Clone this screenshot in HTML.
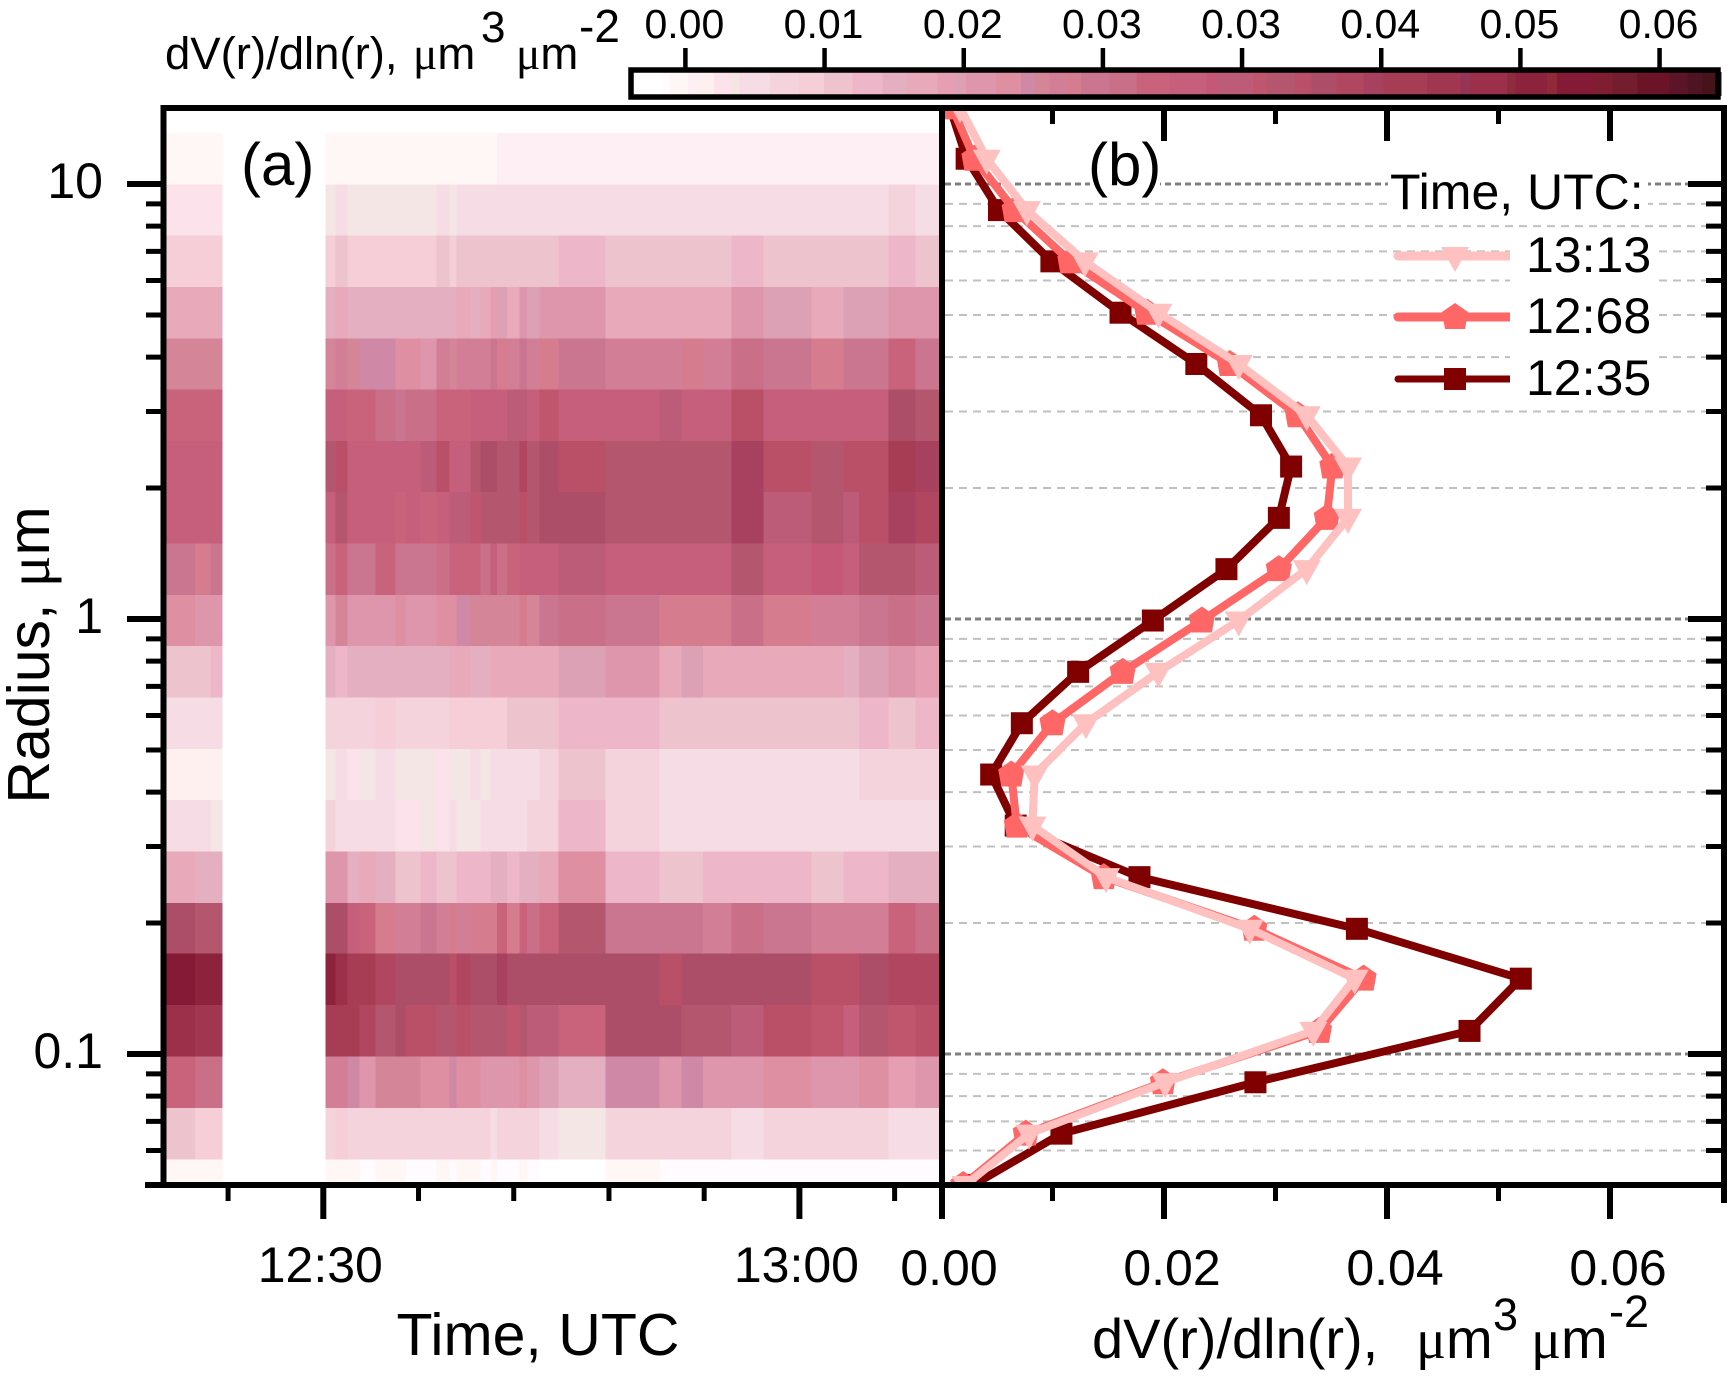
<!DOCTYPE html>
<html lang="en">
<head>
<meta charset="utf-8">
<title>Volume size distribution</title>
<style>
html,body{margin:0;padding:0;background:#fff;}
svg{display:block;}
text{font-family:"Liberation Sans",Arial,sans-serif;fill:#000;}
.mu{font-family:"Liberation Serif","DejaVu Serif",serif;}
</style>
</head>
<body>
<svg id="chart" xmlns="http://www.w3.org/2000/svg" width="1731" height="1377" viewBox="0 0 1731 1377">
  <defs><clipPath id="panel-b-clip"><rect x="945" y="111" width="776" height="1071"/></clipPath></defs>
  <rect x="0" y="0" width="1731" height="1377" fill="#fff"/>
  <g id="heatmap"></g>
  <g id="grid"></g>
  <g id="boxes">
    <rect x="1090" y="143" width="70" height="56" fill="#fff"/>
    <rect x="1388" y="165" width="260" height="50" fill="#fff"/>
    <rect x="1510" y="235" width="148" height="160" fill="#fff"/>
  </g>
  <g id="series" clip-path="url(#panel-b-clip)"></g>
  <g id="axes"></g>
  <g id="colorbar"></g>
  <g id="legend"></g>

  <text x="165" y="69" font-size="45.5">dV(r)/dln(r),<tspan class="mu" x="413">μ</tspan><tspan>m</tspan><tspan x="481" y="42" font-size="44">3</tspan><tspan class="mu" x="516" y="69">μ</tspan><tspan>m</tspan><tspan x="579" y="42" font-size="46">-2</tspan></text>
  <text x="241" y="185" font-size="60">(a)</text>
  <text x="1088" y="185" font-size="60">(b)</text>
  <text x="0" y="0" font-size="59" transform="translate(49,655) rotate(-90)" text-anchor="middle">Radius, <tspan class="mu">μ</tspan>m</text>
  <text x="538" y="1355" font-size="59" text-anchor="middle">Time, UTC</text>
  <text x="1092" y="1358" font-size="56">dV(r)/dln(r),<tspan class="mu" x="1416">μ</tspan><tspan>m</tspan><tspan x="1493" y="1330" font-size="45">3</tspan><tspan class="mu" x="1531" y="1358">μ</tspan><tspan>m</tspan><tspan x="1609" y="1327" font-size="45">-2</tspan></text>
  <text x="1390" y="209" font-size="50">Time, UTC:</text>
</svg>

<script>
// ---------- size bins (um), top to bottom ----------
const radii = [15, 11.43, 8.71, 6.64, 5.06, 3.857, 2.94, 2.241, 1.708, 1.302, 0.992, 0.756, 0.576, 0.439, 0.335, 0.255, 0.194, 0.149, 0.113, 0.0861, 0.0656, 0.05];

// ---------- panel (b) series, dV/dlnr ----------
const seriesNames = ['12:35', '12:68', '13:13'];
const series1235 = [0.0008, 0.0023, 0.0052, 0.0099, 0.0161, 0.0229, 0.0287, 0.0314, 0.0303, 0.0256, 0.0190, 0.0123, 0.00725, 0.0045, 0.0067, 0.0178, 0.0373, 0.0520, 0.0474, 0.0282, 0.0108, 0.0029];
const series1268 = [0.0010, 0.0030, 0.0066, 0.0116, 0.0185, 0.0259, 0.0320, 0.0351, 0.0346, 0.0303, 0.0234, 0.0163, 0.0100, 0.0063, 0.0068, 0.0146, 0.0281, 0.0379, 0.0339, 0.0199, 0.0076, 0.0020];
const series1313 = [0.0017, 0.0041, 0.0077, 0.0129, 0.0195, 0.0267, 0.0328, 0.0365, 0.0365, 0.0328, 0.0267, 0.0195, 0.0130, 0.0084, 0.0082, 0.0148, 0.0277, 0.0371, 0.0334, 0.0201, 0.0079, 0.0022];

// ---------- axis ticks ----------
const timeTicks = [24, 30, 36, 42, 48, 54, 60, 66];
const timeTickLabels = {30: '12:30', 60: '13:00'};
const volumeTicks = [0, 0.01, 0.02, 0.03, 0.04, 0.05, 0.06, 0.07];
const volumeTickLabels = ['0.00', '', '0.02', '', '0.04', '', '0.06', ''];
const radiusMajorTicks = [10, 1, 0.1];
const radiusMajorLabels = ['10', '1', '0.1'];
const radiusMinorTicks = [9, 8, 7, 6, 5, 4, 3, 2, 0.9, 0.8, 0.7, 0.6, 0.5, 0.4, 0.3, 0.2, 0.09, 0.08, 0.07, 0.06];

// ---------- colour scale (value in 1e-3 units: level start, colour) ----------
const colorbarTicks = [0, 8.333, 16.667, 25, 33.333, 41.667, 50, 58.333];
const colorbarLabels = ['0.00', '0.01', '0.02', '0.03', '0.03', '0.04', '0.05', '0.06'];
const levelStarts = [-3.1, -1.35, -0.92, 0.15, 1.0, 1.7, 2.7, 3.25, 5.06, 6.8, 8.3, 10, 11.8, 13.3, 15.1, 16.1, 16.8, 18.6, 20.1, 20.9, 21.8, 22.9, 23.7, 25.4, 27, 29, 31.2, 31.8, 34, 34.8, 36.5, 37.5, 39, 40.6, 41.8, 44.4, 46.4, 47, 49.2, 49.7, 51.6, 52.2, 54.4, 55.5, 57, 58.9, 60, 60.9];
const levelColors = ['#FFFFFF', '#FFFBFE', '#FFF7F6', '#FEEFF5', '#FFF0F0', '#FCE2EA', '#F5E6E6', '#F5DCE5', '#F5D3DC', '#F5CED7', '#EDC3CE', '#EEB6C9', '#E5AFC2', '#E8AABA', '#E69FB2', '#DCA1B5', '#DE96AD', '#DE8FA1', '#CF88A5', '#D48698', '#D27E96', '#D57D8E', '#CB7690', '#C96F88', '#C9637C', '#C65F7C', '#C65877', '#BD5C78', '#C0566E', '#B5566F', '#BA5068', '#AC4E68', '#B04660', '#A8405F', '#A73C55', '#A03650', '#953555', '#9C2F4A', '#8E2C3E', '#8D223D', '#8F2A36', '#841A35', '#7E1E30', '#741D2E', '#6B1428', '#5C1428', '#4F1424', '#451318'];

// ---------- heatmap: column edges in minutes after 12:00 ----------
const scanEdgesEarly = [19.9, 21.93, 22.88, 23.64];
const scanEdgesLate = [30.13, 30.76, 31.51, 32.27, 33.28, 34.54, 35.17, 36.11, 37.12, 37.94, 38.38, 39.26, 39.89, 40.52, 40.96, 41.59, 42.35, 42.85, 43.61, 44.81, 47.77, 51.17, 52.56, 53.94, 55.71, 57.73, 60.75, 62.77, 63.77, 65.60, 67.30, 69];

// heatmap values (1e-3 um3/um2), one row per radius; 3 early + 31 late columns
const heatValues = [
[-3,-3,-3, -3,-3,-3,-3,-3,-3,-3,-3,-3,-3,-3,-3,-3,-3,-3,-3,-3,-3,-3,-3,-3,-3,-3,-3,-3,-3,-3,-3,-3,-3,-3],
[-.5,-.5,-.5, -.5,-.5,-.5,-.5,-.5,-.5,-.5,-.5,-.5,-.5,-.5,-.5,-.5,-.5,.5,.5,.5,.5,.5,.5,.5,.5,.5,.5,.5,.5,.5,.5,.5,.5,.5],
[2.2,2.2,2.2, 3,4,3,3,3,3,3,3,4,3,4,4,4,4,4,4,4,4,4,4,4,4,4,4,4,4,4,4,4,6,4],
[7.5,7.5,7.5, 7.5,9,7.5,7.5,7.5,7.5,7.5,7.5,9,8,9,9,9,9,9,9,9,9,9,11,9,9,9,9,11,9,9,9,9,11,9],
[14,14,14, 12.5,14,13,13,13,12.5,12.5,12.5,12.5,12.5,14,12.5,14,16,16.4,15,17,16.4,17,17,14.5,14.5,14.5,14.5,17,16.4,15,16.4,16.4,17.5,17],
[21,21,21, 21.3,22,21,20.5,20.5,19,19,18,22,21,22,22,22,24,23,22,24.5,22.5,23,24.5,22,22,23,22,26.5,24,23,24.5,24,27,24],
[27.5,27.5,27.5, 30,30,28,27,26,24.5,26,26,27,27.5,27.5,29,29,30,31,33,32,30,34.5,29.5,30,32,30,30.5,37,30,30,30,30,38,36],
[30,30,30, 36,36.6,31,30,31,30,30,33,37,31,31,35,38,38,36,36,40,36,37.6,36.8,36,36,36,36,41,36.8,36,37,37,43,41],
[30,30,30, 31,36,30,30,30,28,29,28,31,33,33,34,36,36,36,36,37,36,37.6,37.6,36,36,36,36,41,32,36,33,37,41,40],
[24.5,23,25, 26,28,24,24,27,25,25,25,26.5,27,28,28,25.5,29,26,27,31,31,31,32,31,31,31,31,36,31,31.5,31,36,36,32],
[20,18,18, 18,21,18,18,18,19,18,18.5,19,20,20.5,21,21,21,21,21,23,21.5,24,26,25,23,23,23,25.5,23,22,22,24.5,26,24],
[9,9,10.5, 12,11,12,12,12,12,12,12,12,14,14,12.5,13,14,14,14,15,14.5,14.5,16.5,17,14.5,16.4,14.5,14.5,14.5,14.5,12.5,16.5,17,16],
[4,4,4, 5.5,5.5,5.5,6,7.5,5.5,5.5,5.5,5.5,7,7,7,7,7,7.5,9,9,9,9,10.8,10.8,9,9,9,9,9,9,9,11,9,11],
[1.3,1.3,1.3, 3,4,2.2,3,4,3,3,3,2.2,3,3,3.5,3,4,4,4,4,5,6,9,5.5,5,4,4,4,4,4,4,5.5,6,5.5],
[4,4,3, 5.5,4,4,4,4,2.2,2.2,3,2.2,4.5,3,3,4,4,4,4,5,5.5,5.5,10.5,5.5,4,4,4,4,4,4,4,4,5,5],
[14.5,13,13, 17,17,12.5,14,12.5,9,9,11,9,9.5,10.5,10.5,11,12.5,12.5,10.5,12,12,14,19.5,10.5,9,9.5,10.5,10.5,10.5,9,10.5,10.5,12.5,12.5],
[38,35.5,35, 38,38,29,28,23,22,22,24,22,23,22,23,23,23,27,23.5,27,26,27,36,24.5,24,24,22,26,24.5,22,22,22.5,27,26],
[53,51,51, 50,48,43,44,40,38,38,38,38,37,40,38,38,38,41,38,38,38,38,38,38,37,38,38,38,38,37,37,38,40,40],
[48,46,46, 43,44,42,40,36,38,37,37,36,36,37,36,36,36,36,34,35,32,33,27,38,38,35,36,33,37,34.4,29,35,34,37],
[27,26,25.5, 22,22,20.5,18.5,21.5,21,21,19,19,20.5,19,19,18,17,17.5,18.5,19,17,16.4,13,20.5,18,20.5,18,17,19,17,17,19,16,17],
[9,7.5,8, 5.5,7,5.5,5.5,6.5,5.5,5.5,5.5,5.5,5.5,5.5,5.5,5.5,4,5.5,5.5,6,5.5,4,2.8,5.5,5.5,5.5,5.5,4,5.5,5.5,6.5,5.5,4,5],
[-.5,-.5,-.5, -.5,-.5,-.5,-1,-.5,-.5,-1,-1,-.5,-1,-.5,-.5,-1,-.5,-1,-1,-.5,-1,-2,-2,-.5,-1,-1,-1,-1,-1,-1,-1,-1,-1,-1]
];

// ---------- scales ----------
const yOfRadius = r => 619 - 435 * Math.log10(r);
const xOfMinute = m => 323.3 + (m - 30) * 15.87;
const xOfVolume = v => 941 + 11150 * v;
const xOfColor = v => 685.4 + 16.7 * v;
const SVGNS = 'http://www.w3.org/2000/svg';
const FRAME_LEFT = 163.5, FRAME_RIGHT = 1724, FRAME_TOP = 108, FRAME_BOTTOM = 1185, DIVIDER = 942;

function shape(parent, tag, geometry) {
  const node = document.createElementNS(SVGNS, tag);
  for (const key in geometry) node.setAttribute(key, geometry[key]);
  parent.appendChild(node);
  return node;
}
function colorFor(v) {
  let c = levelColors[0];
  for (let i = 0; i < levelStarts.length; i++) { if (v >= levelStarts[i]) c = levelColors[i]; }
  return c;
}

// ---------- heatmap ----------
const heatGroup = document.getElementById('heatmap');
const heatEdges = [];
for (let i = 0; i < scanEdgesEarly.length - 1; i++) heatEdges.push([scanEdgesEarly[i], scanEdgesEarly[i + 1]]);
for (let i = 0; i < scanEdgesLate.length - 1; i++) heatEdges.push([scanEdgesLate[i], scanEdgesLate[i + 1]]);
heatValues.forEach((row, ri) => {
  const top = ri === 0 ? yOfRadius(radii[0]) : yOfRadius(Math.sqrt(radii[ri] * radii[ri - 1]));
  const bottom = ri === radii.length - 1 ? yOfRadius(radii[ri]) : yOfRadius(Math.sqrt(radii[ri] * radii[ri + 1]));
  row.forEach((value, ci) => {
    const x0 = xOfMinute(heatEdges[ci][0]);
    const x1 = xOfMinute(heatEdges[ci][1]);
    const cell = shape(heatGroup, 'rect', {x: x0, y: top, width: x1 - x0, height: bottom - top, fill: colorFor(value), 'shape-rendering': 'crispEdges'});
    
    
  });
});

// ---------- gridlines for panel (b) ----------
const gridGroup = document.getElementById('grid');
radiusMinorTicks.forEach(r => {
  const y = yOfRadius(r);
  const line = shape(gridGroup, 'line', {x1: 945, x2: FRAME_RIGHT - 18, y1: y, y2: y, stroke: '#c0c0c0', 'stroke-width': 2, 'stroke-dasharray': '8 6'});
  
  
});
radiusMajorTicks.forEach(r => {
  const y = yOfRadius(r);
  const line = shape(gridGroup, 'line', {x1: 945, x2: FRAME_RIGHT - 36, y1: y, y2: y, stroke: '#808080', 'stroke-width': 3, 'stroke-dasharray': '6 4'});
  
  
});

// ---------- series ----------
const seriesGroup = document.getElementById('series');
const legendGroup = document.getElementById('legend');
function marker(parent, kind, cx, cy, color) {
  let node;
  if (kind === 'square') {
    node = shape(parent, 'rect', {x: cx - 11, y: cy - 11, width: 22, height: 22, fill: color});
  } else if (kind === 'pentagon') {
    node = shape(parent, 'polygon', {points: [[cx, cy - 14], [cx + 13, cy - 5], [cx + 10, cy + 12], [cx - 10, cy + 12], [cx - 13, cy - 5]].map(p => p.join(',')).join(' '), fill: color});
  } else {
    node = shape(parent, 'polygon', {points: [[cx - 14, cy - 9], [cx + 14, cy - 9], [cx, cy + 16]].map(p => p.join(',')).join(' '), fill: color});
  }
  
  
}
function drawSeries(values, color, kind, width) {
  const path = shape(seriesGroup, 'polyline', {points: values.map((v, i) => xOfVolume(v) + ',' + yOfRadius(radii[i])).join(' '), fill: 'none', stroke: color, 'stroke-width': width, 'stroke-linejoin': 'miter'});
  
  
  values.forEach((v, i) => marker(seriesGroup, kind, xOfVolume(v), yOfRadius(radii[i]), color));
}
drawSeries(series1235, '#800000', 'square', 8);
drawSeries(series1268, '#FF6666', 'pentagon', 8);
drawSeries(series1313, '#FFC0C0', 'triangle', 8);

// ---------- axes ----------
const axesGroup = document.getElementById('axes');
function stroke(x1, y1, x2, y2, w, name) {
  const line = shape(axesGroup, 'line', {x1: x1, y1: y1, x2: x2, y2: y2, stroke: '#000', 'stroke-width': w});
  
  
}
function label(parent, str, x, y, size, anchor, name) {
  const t = shape(parent, 'text', {x: x, y: y, 'font-size': size, 'text-anchor': anchor});
  t.textContent = str;
  
  
}
stroke(FRAME_LEFT, FRAME_TOP - 3, FRAME_LEFT, FRAME_BOTTOM + 3, 6, 'panel-a-left-axis');
stroke(FRAME_LEFT - 3, FRAME_TOP, FRAME_RIGHT + 3, FRAME_TOP, 6, 'top-axis');
stroke(145, FRAME_BOTTOM, FRAME_RIGHT + 3, FRAME_BOTTOM, 6, 'bottom-axis');
stroke(DIVIDER, FRAME_TOP - 3, DIVIDER, FRAME_BOTTOM + 34, 6, 'panel-divider-axis');
stroke(FRAME_RIGHT, FRAME_TOP - 3, FRAME_RIGHT, FRAME_BOTTOM + 18, 6, 'right-axis');

radiusMajorTicks.forEach((r, i) => {
  const y = yOfRadius(r);
  stroke(127, y, FRAME_LEFT, y, 6, 'y-major-tick');
  stroke(FRAME_RIGHT - 36, y, FRAME_RIGHT, y, 6, 'y-right-major-tick');
  label(axesGroup, radiusMajorLabels[i], 103, y + 14, 50, 'end', 'y-tick-label');
});
radiusMinorTicks.forEach(r => {
  const y = yOfRadius(r);
  stroke(146, y, FRAME_LEFT, y, 5, 'y-minor-tick');
  stroke(FRAME_RIGHT - 18, y, FRAME_RIGHT, y, 5, 'y-right-minor-tick');
});
timeTicks.forEach(m => {
  const x = xOfMinute(m);
  const major = timeTickLabels[m] !== undefined;
  stroke(x, FRAME_BOTTOM, x, FRAME_BOTTOM + (major ? 34 : 16), major ? 6 : 5, 'time-tick');
  if (major) label(axesGroup, timeTickLabels[m], x - 3, 1282, 50, 'middle', 'time-tick-label');
});
volumeTicks.forEach((v, i) => {
  const x = xOfVolume(v);
  const major = volumeTickLabels[i] !== '';
  if (i > 0 && i < volumeTicks.length - 1) {
    stroke(x, FRAME_BOTTOM, x, FRAME_BOTTOM + (major ? 34 : 16), major ? 6 : 5, 'volume-tick');
    stroke(x, FRAME_TOP, x, FRAME_TOP + (major ? 33 : 16), major ? 6 : 5, 'volume-top-tick');
  }
  if (major) label(axesGroup, volumeTickLabels[i], x + 8, 1285, 50, 'middle', 'volume-tick-label');
});

// ---------- colour bar ----------
const barGroup = document.getElementById('colorbar');
levelStarts.forEach((start, i) => {
  const end = i + 1 < levelStarts.length ? levelStarts[i + 1] : 62;
  const seg = shape(barGroup, 'rect', {x: xOfColor(start), y: 72, width: xOfColor(end) - xOfColor(start) + 0.5, height: 24, fill: levelColors[i], 'shape-rendering': 'crispEdges'});
  
  
});
const barFrame = shape(barGroup, 'rect', {x: 631, y: 70, width: 1087, height: 27, fill: 'none', stroke: '#000', 'stroke-width': 5.5});


colorbarTicks.forEach((v, i) => {
  const x = xOfColor(v);
  const tick = shape(barGroup, 'line', {x1: x, x2: x, y1: 48, y2: 68, stroke: '#000', 'stroke-width': 4.5});
  
  
  label(barGroup, colorbarLabels[i], x - 1, 38, 41, 'middle', 'colorbar-tick-label');
});

// ---------- legend ----------
const legendOrder = [2, 1, 0];
const legendColors = ['#800000', '#FF6666', '#FFC0C0'];
const legendKinds = ['square', 'pentagon', 'triangle'];
const legendWidths = [7, 9, 9];
const legendRows = [379, 317, 256];
legendOrder.forEach(i => {
  const y = legendRows[i];
  const line = shape(legendGroup, 'line', {x1: 1398, x2: 1510, y1: y, y2: y, stroke: legendColors[i], 'stroke-width': legendWidths[i]});
  
  
  const cap = shape(legendGroup, 'circle', {cx: 1398, cy: y, r: legendWidths[i] / 2, fill: legendColors[i]});
  
  
  marker(legendGroup, legendKinds[i], 1455, y, legendColors[i]);
  label(legendGroup, seriesNames[i], 1526, y + 16, 50, 'start', 'legend-label');
});
</script>
</body>
</html>
